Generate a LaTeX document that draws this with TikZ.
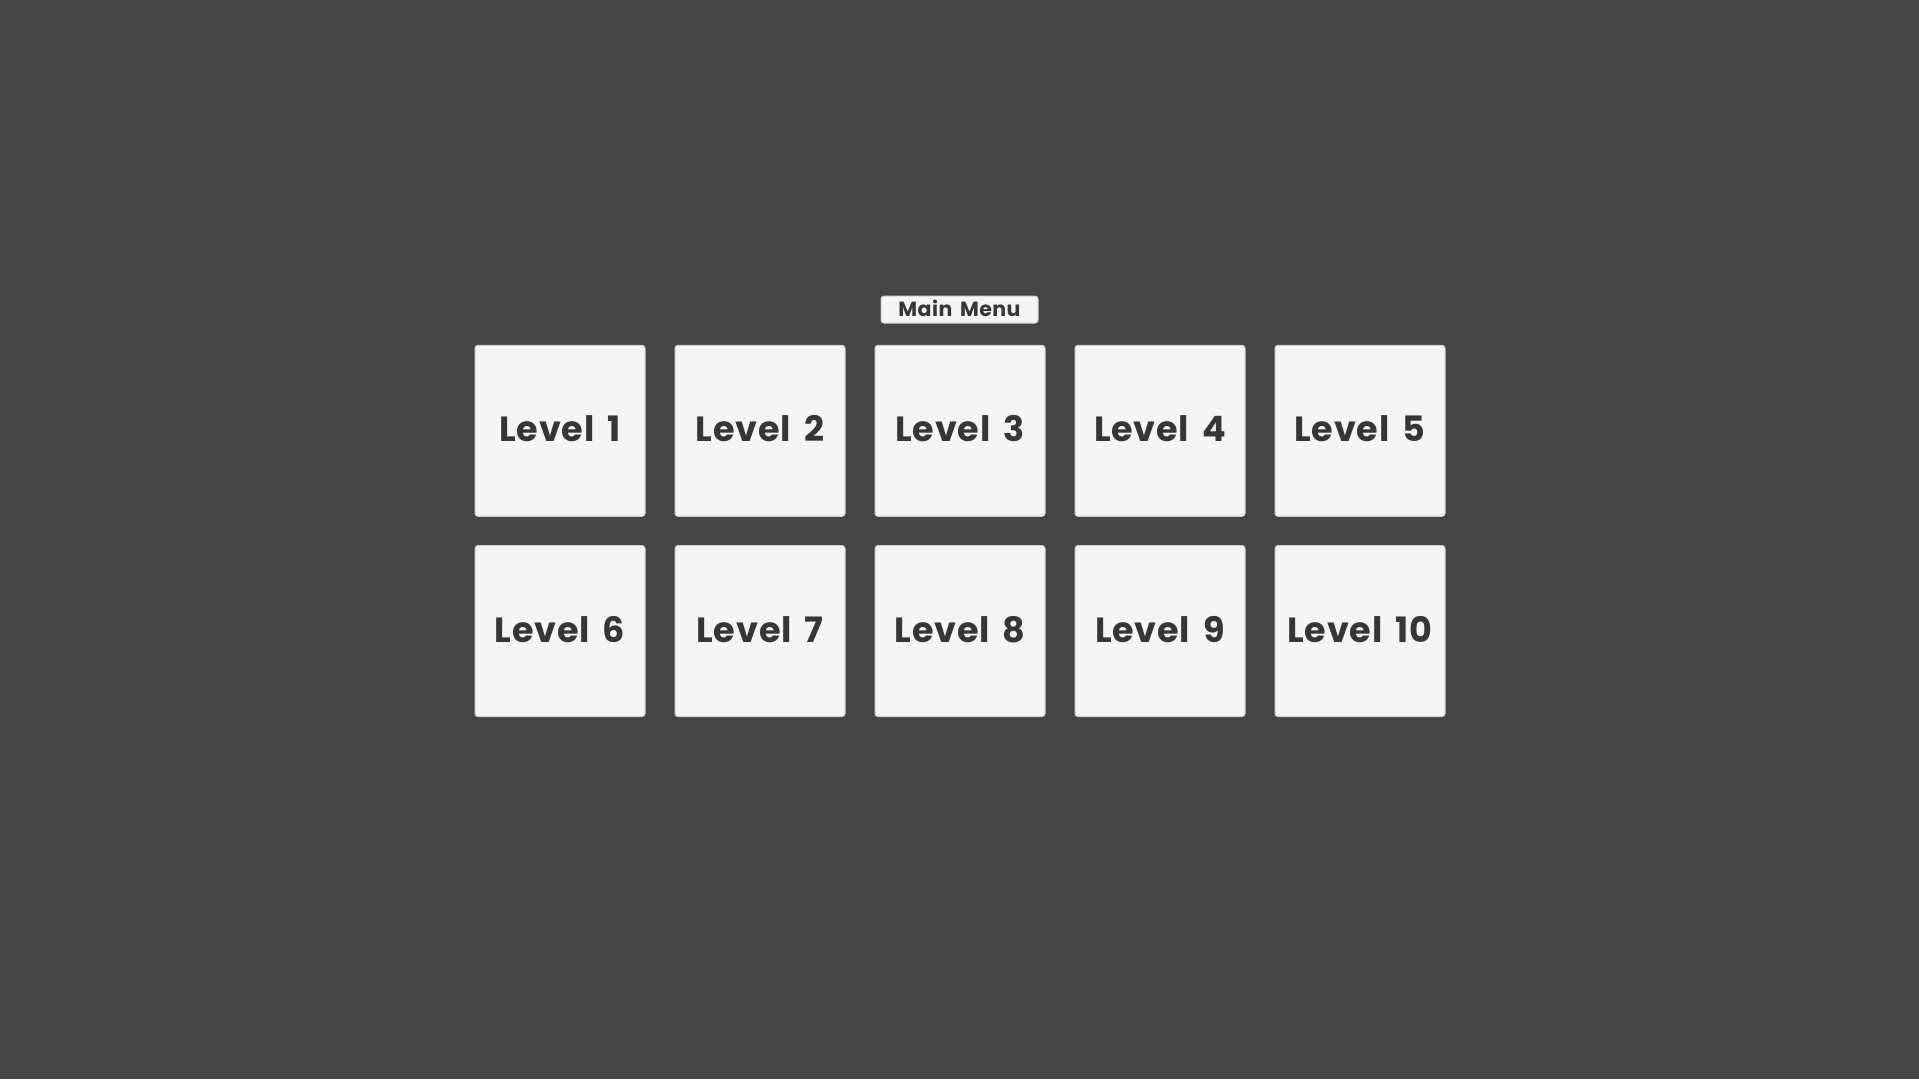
\documentclass[tikz,border=0pt]{standalone}
\usepackage{fontspec}
\setmainfont{Poppins}[LetterSpace=2.2,WordSpace=1.6]
\definecolor{bg}{HTML}{454545}
\definecolor{tile}{HTML}{F5F5F5}
\definecolor{tileedge}{HTML}{D0D0D0}
\definecolor{ink}{HTML}{363636}
\begin{document}
\begin{tikzpicture}[x=1pt,y=-1pt,
  levelbox/.style={draw=tileedge,line width=1pt,fill=tile,rounded corners=3pt,
    minimum width=170pt,minimum height=171pt,inner sep=0pt,
    text=ink,font=\fontsize{35}{35}\selectfont\bfseries,
    text height=22pt,text depth=0pt},
  menubtn/.style={draw=tileedge,line width=1pt,fill=tile,rounded corners=3pt,
    minimum width=157pt,minimum height=27pt,inner sep=0pt,
    text=ink,font=\fontsize{20.5}{21}\selectfont\bfseries,
    text height=13.5pt,text depth=0pt}]
\fill[bg] (0,0) rectangle (1919,1079);
\useasboundingbox (0,0) rectangle (1919,1079);
\node[menubtn] (menu) at (959.5,309.6) {Main Menu};
\foreach \i in {1,...,5}{
  \node[levelbox] (L\i) at ({560+200*(\i-1)},430.8) {Level \i};
}
\foreach \i in {6,...,10}{
  \node[levelbox] (L\i) at ({560+200*(\i-6)},631) {Level \i};
}
\end{tikzpicture}
\end{document}
